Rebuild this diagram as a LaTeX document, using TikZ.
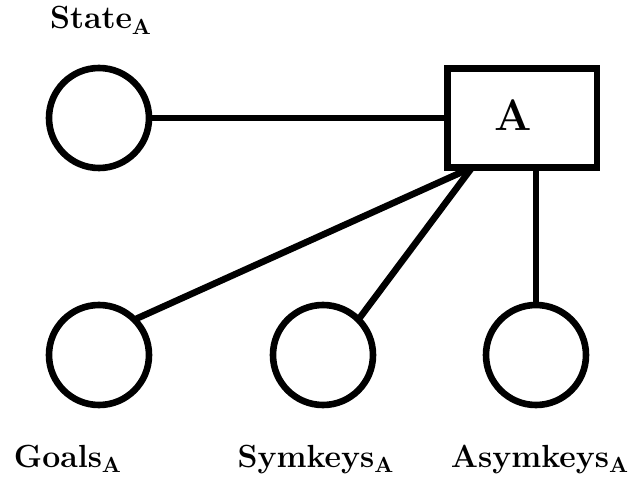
\documentclass[tikz,border=0pt]{standalone}
\begin{document}
\begin{tikzpicture}[x=0.5pt,y=-0.5pt,
  every node/.style={inner sep=0pt,outer sep=0pt},
  place/.style={circle,draw,line width=3.3pt,minimum size=50pt},
  agentbox/.style={rectangle,draw,line width=3.4pt,minimum width=74.75pt,minimum height=49.5pt},
  lbl/.style={anchor=base,font=\fontsize{16}{19}\selectfont},
  conn/.style={line width=3.3pt}]
\useasboundingbox (0,0) rectangle (637,480);
\node[place] (state) at (99,118) {};
\node[agentbox] (A) at (522.25,118) {};
\node[anchor=base,font=\fontsize{22}{26}\selectfont] (Alabel) at (513,131) {\textbf{A}};
\node[place] (goals) at (99,355) {};
\node[place] (sym) at (323,355) {};
\node[place] (asym) at (536,355) {};
\node[lbl] (stateL) at (101,29) {\textbf{State}$_{\mathbf{A}}$};
\node[lbl] (goalsL) at (68,467) {\textbf{Goals}$_{\mathbf{A}}$};
\node[lbl] (symL) at (316,467) {\textbf{Symkeys}$_{\mathbf{A}}$};
\node[lbl] (asymL) at (540,467) {\textbf{Asymkeys}$_{\mathbf{A}}$};
\coordinate (hub) at ([xshift=12.25pt]A.south west);
\draw[conn] (state.east) -- (A.west);
\draw[conn] (goals.north east) -- (hub);
\draw[conn] (sym.north east) -- (hub);
\draw[conn] (asym.north) -- (asym.north |- A.south);
\end{tikzpicture}
\end{document}
